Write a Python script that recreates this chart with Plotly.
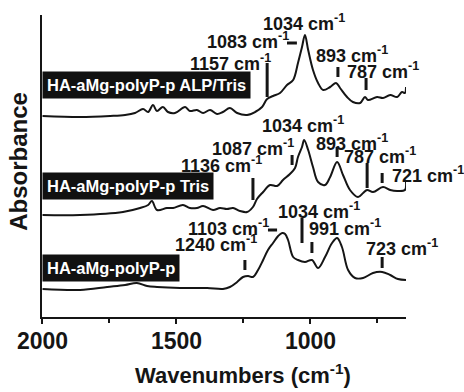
import plotly.graph_objects as go

# ---------------- data (wavenumber cm-1, absorbance a.u., stacked) ----------------
alp_w = [1998, 1858, 1746, 1690, 1653, 1623, 1604, 1586, 1571, 1549, 1530, 1504, 1466, 1448,
         1422, 1399, 1373, 1347, 1325, 1299, 1272, 1235, 1205, 1179, 1160, 1138, 1112, 1086,
         1063, 1045, 1030, 1019, 1007, 989, 970, 951, 925, 903, 888, 862, 840, 813, 795, 784,
         750, 728, 701, 675, 657, 646, 642]
alp_a = [2.01, 2.00, 2.01, 2.02, 2.04, 2.08, 2.05, 2.12, 2.06, 2.10, 2.05, 2.04, 2.10, 2.06,
         2.07, 2.04, 2.07, 2.03, 2.05, 2.09, 2.04, 2.02, 2.05, 2.10, 2.18, 2.21, 2.24, 2.32,
         2.37, 2.54, 2.70, 2.82, 2.67, 2.47, 2.34, 2.27, 2.30, 2.34, 2.29, 2.20, 2.15, 2.14,
         2.20, 2.17, 2.20, 2.19, 2.22, 2.20, 2.25, 2.24, 2.30]

tris_w = [1998, 1858, 1698, 1634, 1604, 1590, 1571, 1534, 1511, 1474, 1448, 1422, 1399, 1362,
          1336, 1310, 1287, 1261, 1235, 1213, 1198, 1175, 1149, 1123, 1101, 1075, 1056, 1045,
          1030, 1022, 1007, 989, 970, 944, 925, 899, 877, 851, 821, 802, 787, 765, 728, 701,
          675, 646, 642]
tris_a = [1.02, 1.02, 1.05, 1.09, 1.12, 1.16, 1.07, 1.09, 1.09, 1.12, 1.09, 1.09, 1.11, 1.07,
          1.09, 1.08, 1.09, 1.06, 1.05, 1.10, 1.18, 1.25, 1.32, 1.31, 1.37, 1.43, 1.49, 1.60,
          1.70, 1.77, 1.67, 1.50, 1.35, 1.32, 1.40, 1.55, 1.42, 1.27, 1.20, 1.24, 1.27, 1.25,
          1.30, 1.27, 1.26, 1.27, 1.35]

p_w = [1998, 1858, 1757, 1690, 1646, 1608, 1571, 1485, 1384, 1325, 1299, 1272, 1250, 1231,
       1213, 1194, 1175, 1157, 1138, 1119, 1104, 1093, 1082, 1063, 1045, 1019, 993, 970, 944,
       918, 899, 881, 858, 832, 802, 765, 731, 701, 672, 642]
p_a = [0.28, 0.27, 0.30, 0.32, 0.34, 0.31, 0.30, 0.29, 0.29, 0.28, 0.30, 0.35, 0.40, 0.41,
       0.40, 0.47, 0.57, 0.67, 0.74, 0.81, 0.84, 0.83, 0.77, 0.60, 0.57, 0.55, 0.57, 0.49, 0.60,
       0.74, 0.79, 0.70, 0.47, 0.39, 0.39, 0.44, 0.45, 0.42, 0.38, 0.37]

# peak marker bars: wavenumber, bottom, top
bar_w  = [1160, 896, 791, 1213, 1067, 899, 787, 731, 1243, 1030, 993, 731]
bar_y0 = [2.20, 2.40, 2.27, 1.17, 1.52, 1.60, 1.29, 1.34, 0.47, 0.74, 0.64, 0.49]
bar_y1 = [2.54, 2.50, 2.39, 1.39, 1.62, 1.70, 1.54, 1.44, 0.57, 0.99, 0.75, 0.60]
# horizontal dash markers: from, to, level
dash_w0 = [1086, 1157]
dash_w1 = [1049, 1123]
dash_y  = [2.74, 0.87]

# peak labels
lab_text = ["1034", "1083", "1157", "893", "787",
            "1034", "1087", "1136", "893", "787", "721",
            "1034", "1103", "1240", "991", "723"]
lab_w = [1022, 1231, 1295, 843, 728,
         1026, 1213, 1332, 843, 739, 701,
         966, 1306, 1351, 869, 657]
lab_y = [2.95, 2.77, 2.55, 2.63, 2.47,
         1.93, 1.70, 1.53, 1.75, 1.62, 1.43,
         1.07, 0.90, 0.74, 0.90, 0.70]
lab_anchor = ["center"] * 10 + ["left"] + ["center"] * 5

sample_names = ["HA-aMg-polyP-p ALP/Tris", "HA-aMg-polyP-p Tris", "HA-aMg-polyP-p"]
sample_y = [2.325, 1.31, 0.495]

x_ticks = [2000, 1500, 1000]
x_tick_labels = ["2000", "1500", "1000"]
x_minor_ticks = [1750, 1250, 750]

# ---------------- figure ----------------
FONT = "Liberation Sans, Arial, sans-serif"
INK = "#151515"

fig = go.Figure()
for w, a in [(alp_w, alp_a), (tris_w, tris_a), (p_w, p_a)]:
    fig.add_trace(go.Scatter(x=w, y=a, mode="lines", line=dict(color=INK, width=2),
                             line_shape="spline", hoverinfo="skip", showlegend=False))

bx, by = [], []
for w, y0, y1 in zip(bar_w, bar_y0, bar_y1):
    bx += [w, w, None]
    by += [y0, y1, None]
fig.add_trace(go.Scatter(x=bx, y=by, mode="lines", line=dict(color=INK, width=3),
                         showlegend=False, hoverinfo="skip"))
dx, dy = [], []
for w0, w1, y in zip(dash_w0, dash_w1, dash_y):
    dx += [w0, w1, None]
    dy += [y, y, None]
fig.add_trace(go.Scatter(x=dx, y=dy, mode="lines", line=dict(color=INK, width=3),
                         showlegend=False, hoverinfo="skip"))

for t, w, y, anc in zip(lab_text, lab_w, lab_y, lab_anchor):
    fig.add_annotation(x=w, y=y, xref="x", yref="y", text=f"<b>{t} cm<sup>-1</sup></b>",
                       showarrow=False, xanchor=anc, yanchor="middle",
                       font=dict(family=FONT, size=18, color=INK))

for name, y in zip(sample_names, sample_y):
    fig.add_annotation(x=2000, y=y, xref="x", yref="y", text=f"<b>{name}</b>",
                       showarrow=False, xanchor="left", yanchor="middle",
                       bgcolor="#111111", borderpad=4,
                       font=dict(family=FONT, size=16.5, color="white"))

# bold tick labels
for v, t in zip(x_ticks, x_tick_labels):
    fig.add_annotation(x=v, y=-0.08, xref="x", yref="paper", text=f"<b>{t}</b>",
                       showarrow=False, xanchor="center", yanchor="middle",
                       font=dict(family=FONT, size=23, color=INK))

fig.add_annotation(x=0.552, y=-0.19, xref="paper", yref="paper",
                   text="<b>Wavenumbers (cm<sup>-1</sup>)</b>", showarrow=False,
                   xanchor="center", yanchor="middle",
                   font=dict(family=FONT, size=22, color=INK))
fig.add_annotation(x=-0.065, y=0.515, xref="paper", yref="paper",
                   text="<b>Absorbance</b>", showarrow=False, textangle=-90,
                   xanchor="center", yanchor="middle",
                   font=dict(family=FONT, size=24, color=INK))

fig.update_layout(
    width=464, height=392,
    margin=dict(l=42, r=58, t=15, b=75),
    plot_bgcolor="white", paper_bgcolor="white",
    font=dict(family=FONT, color=INK),
    xaxis=dict(range=[2000, 642], showgrid=False, zeroline=False,
               showline=True, linecolor=INK, linewidth=2,
               tickmode="array", tickvals=x_ticks, showticklabels=False,
               ticks="outside", ticklen=5, tickwidth=2, tickcolor=INK,
               minor=dict(tickmode="array", tickvals=x_minor_ticks,
                          ticks="outside", ticklen=4, tickwidth=2, tickcolor=INK)),
    yaxis=dict(range=[0, 3.02], showgrid=False, zeroline=False,
               showline=True, linecolor=INK, linewidth=2,
               showticklabels=False, ticks=""),
)

fig.write_html("out.html")
